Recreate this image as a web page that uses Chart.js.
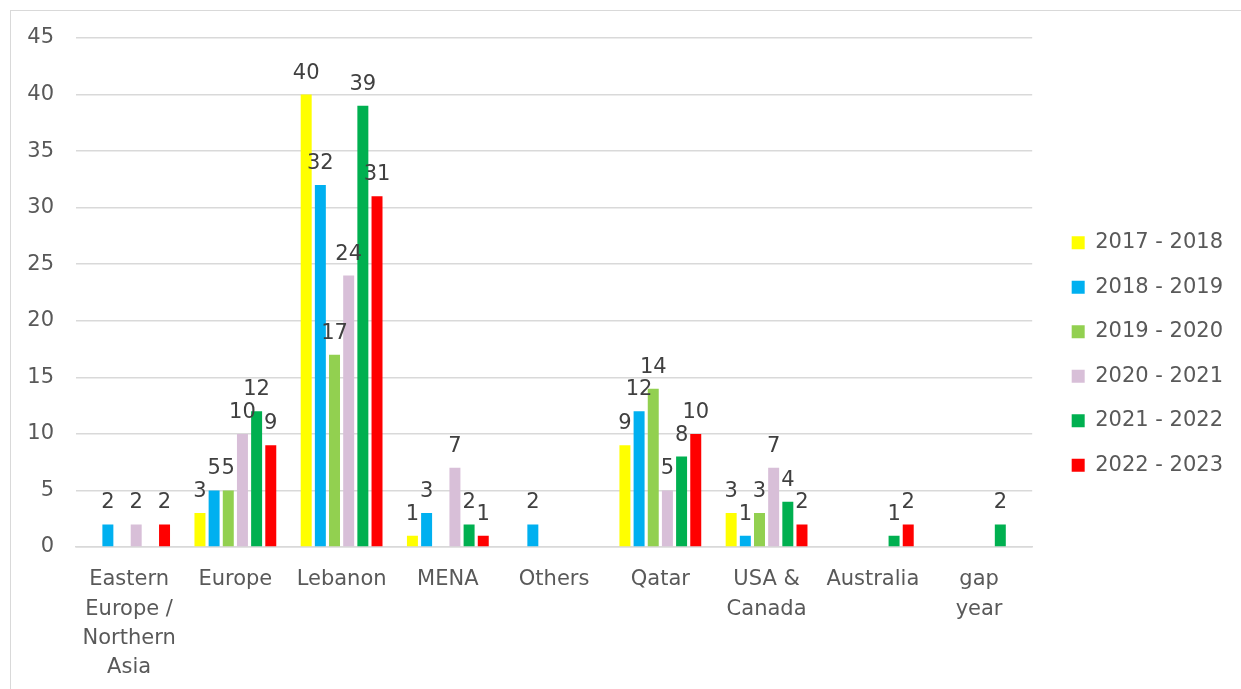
<!DOCTYPE html>
<html>
<head>
<meta charset="utf-8">
<script src="https://cdn.jsdelivr.net/npm/chart.js@4"></script>
<style>
    body { margin: 0; background: #fff; overflow: hidden; }
    #wrap {
        position: absolute; left: 10px; top: 10px;
        width: 1230px; height: 678px;
        border-left: 1px solid #d9d9d9; border-top: 1px solid #d9d9d9;
    }
</style>
</head>
<body>
<div id="wrap"><canvas id="destChart"></canvas></div>
<script>
// Categories and series values
const categories = [
    ['Eastern', 'Europe /', 'Northern', 'Asia'],
    'Europe', 'Lebanon', 'MENA', 'Others', 'Qatar',
    ['USA &', 'Canada'], 'Australia', ['gap', 'year']
];
const seriesNames = ['2017 - 2018', '2018 - 2019', '2019 - 2020', '2020 - 2021', '2021 - 2022', '2022 - 2023'];
const seriesColors = ['#ffff00', '#00b0f0', '#92d050', '#d8bfd8', '#00b050', '#ff0000'];

const y2017 = [null, 3, 40, 1, null, 9, 3, null, null];
const y2018 = [2, 5, 32, 3, 2, 12, 1, null, null];
const y2019 = [null, 5, 17, null, null, 14, 3, null, null];
const y2020 = [2, 10, 24, 7, null, 5, 7, null, null];
const y2021 = [null, 12, 39, 2, null, 8, 4, 1, 2];
const y2022 = [2, 9, 31, 1, null, 10, 2, 2, null];
const seriesValues = [y2017, y2018, y2019, y2020, y2021, y2022];

const yTicks = { min: 0, max: 45, step: 5 };

const FONT = 'DejaVu Sans';
const PLOT_TOP = 27;

// Value labels above bars
const barLabels = {
    id: 'barLabels',
    afterDatasetsDraw(chart) {
        const ctx = chart.ctx;
        ctx.save();
        ctx.font = '21px ' + FONT;
        ctx.fillStyle = '#404040';
        ctx.textAlign = 'center';
        ctx.textBaseline = 'alphabetic';
        chart.data.datasets.forEach((ds, i) => {
            const meta = chart.getDatasetMeta(i);
            meta.data.forEach((bar, j) => {
                const v = ds.data[j];
                if (v === null || v === undefined) return;
                ctx.fillText(String(v), bar.x, bar.y - 16);
            });
        });
        ctx.restore();
    }
};

// layout tweaks: plot top edge, legend a bit away from the plot
const layoutFix = {
    id: 'layoutFix',
    afterLayout(chart) {
        const ca = chart.chartArea;
        const y = chart.scales.y;
        ca.top = PLOT_TOP;
        ca.height = ca.bottom - ca.top;
        y.top = PLOT_TOP;
        y.height = y.bottom - y.top;
        y.configure();

        const lg = chart.legend;
        if (!lg) return;
        lg.left += 16;
        lg.right = chart.width;
        lg.width = lg.right - lg.left;
        lg.top = 8;
        lg.bottom = chart.height;
        lg.height = lg.bottom - lg.top;
    }
};

const ctx = document.getElementById('destChart');
new Chart(ctx, {
    type: 'bar',
    data: {
        labels: categories,
        datasets: seriesNames.map((name, i) => ({
            label: name,
            data: seriesValues[i],
            backgroundColor: seriesColors[i],
            categoryPercentage: 0.8,
            barPercentage: 0.775
        }))
    },
    options: {
        responsive: true,
        maintainAspectRatio: false,
        animation: false,
        layout: { autoPadding: false, padding: { top: 19.5, right: 24, bottom: 0, left: 0 } },
        plugins: {
            legend: {
                position: 'right',
                labels: {
                    font: { family: FONT, size: 21 },
                    color: '#595959',
                    boxWidth: 13,
                    boxHeight: 13,
                    padding: 23.5
                }
            },
            tooltip: { enabled: false }
        },
        scales: {
            x: {
                grid: { display: false, drawTicks: false },
                border: { color: '#d9d9d9', width: 1.5 },
                ticks: {
                    font: { family: FONT, size: 21, lineHeight: 1.4 },
                    color: '#595959',
                    maxRotation: 0,
                    autoSkip: false,
                    padding: 18
                },
                afterFit(scale) { scale.height = 142; }
            },
            y: {
                min: yTicks.min,
                max: yTicks.max,
                grid: { color: '#d9d9d9', lineWidth: 1.5, drawTicks: false },
                border: { display: false },
                ticks: {
                    stepSize: yTicks.step,
                    font: { family: FONT, size: 21 },
                    color: '#595959',
                    padding: 22
                },
                afterFit(scale) { scale.width = 65; }
            }
        }
    },
    plugins: [barLabels, layoutFix]
});
</script>
</body>
</html>
